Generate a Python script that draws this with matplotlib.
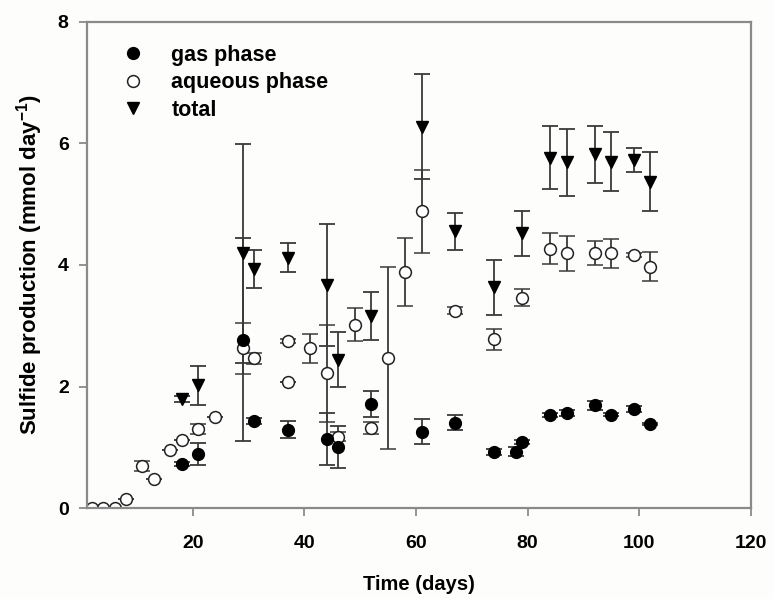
import matplotlib
matplotlib.use("Agg")
import matplotlib.pyplot as plt

# ---- data ----
gas_x = [18, 21, 29, 31, 37, 44, 46, 52, 61, 67, 74, 78, 79, 84, 87, 92, 95, 99, 102]
gas_y = [0.73, 0.89, 2.77, 1.44, 1.29, 1.14, 1.01, 1.71, 1.26, 1.41, 0.92, 0.93, 1.09, 1.53, 1.56, 1.69, 1.54, 1.63, 1.39]
gas_e = [0.03, 0.18, 1.67, 0.05, 0.14, 0.43, 0.35, 0.21, 0.21, 0.12, 0.05, 0.07, 0.03, 0.03, 0.05, 0.07, 0.02, 0.05, 0.02]

aq_x = [2, 4, 6, 8, 11, 13, 16, 18, 21, 24, 29, 31, 37, 37, 41, 44, 46, 49, 52, 55, 58, 61, 67, 74, 79, 84, 87, 92, 95, 99, 102]
aq_y = [0, 0, 0, 0.16, 0.69, 0.48, 0.96, 1.12, 1.30, 1.50, 2.63, 2.47, 2.75, 2.07, 2.63, 2.22, 1.18, 3.02, 1.32, 2.47, 3.88, 4.88, 3.25, 2.78, 3.46, 4.27, 4.19, 4.20, 4.19, 4.16, 3.97]
aq_e = [0, 0, 0, 0, 0.08, 0, 0, 0, 0.08, 0, 0.42, 0.09, 0.03, 0, 0.24, 0.80, 0.07, 0.27, 0.10, 1.49, 0.56, 0.68, 0.06, 0.17, 0.14, 0.26, 0.29, 0.20, 0.24, 0.03, 0.24]

tot_x = [18, 21, 29, 31, 37, 44, 46, 52, 61, 67, 74, 79, 84, 87, 92, 95, 99, 102]
tot_y = [1.79, 2.02, 4.19, 3.93, 4.12, 3.67, 2.44, 3.16, 6.27, 4.55, 3.63, 4.52, 5.76, 5.69, 5.82, 5.70, 5.73, 5.37]
tot_e = [0.05, 0.32, 1.80, 0.31, 0.24, 1.00, 0.45, 0.40, 0.86, 0.30, 0.45, 0.37, 0.52, 0.55, 0.47, 0.49, 0.20, 0.49]

labels = ["gas phase", "aqueous phase", "total"]
xticks = [20, 40, 60, 80, 100, 120]
yticks = [0, 2, 4, 6, 8]

plt.rcParams["mathtext.fontset"] = "custom"
plt.rcParams["mathtext.bf"] = "Liberation Sans:bold"
plt.rcParams["mathtext.rm"] = "Liberation Sans:bold"

fig = plt.figure(figsize=(7.74, 5.99), dpi=100)
fig.patch.set_facecolor("#fdfdfb")
ax = fig.add_axes([0.112, 0.1514, 0.858, 0.8126])
ax.set_facecolor("#fdfdfb")

ecol = "#3a3a3a"
ekw = dict(ecolor=ecol, elinewidth=1.3, capsize=5.5, capthick=1.3, linestyle="none", zorder=2)

ax.errorbar(tot_x, tot_y, yerr=tot_e, fmt="v", color="black", markersize=8,
            markerfacecolor="black", markeredgecolor="black", label=labels[2], **ekw)
ax.errorbar(aq_x, aq_y, yerr=aq_e, fmt="o", markersize=8.5, markerfacecolor="white",
            markeredgecolor="#222222", markeredgewidth=1.1, label=labels[1], **ekw)
ax.errorbar(gas_x, gas_y, yerr=gas_e, fmt="o", markersize=8.5, markerfacecolor="black",
            markeredgecolor="black", label=labels[0], **ekw)

ax.set_xlim(1, 120)
ax.set_ylim(0, 8)
ax.set_xticks(xticks)
ax.set_yticks(yticks)

for s in ax.spines.values():
    s.set_color("#8a8a8a")
    s.set_linewidth(1.6)
ax.tick_params(axis="both", direction="out", length=6, width=1.3, color="#8a8a8a",
               top=False, right=False)
ax.tick_params(axis="x", pad=13)
ax.tick_params(axis="y", pad=7)

fam = ["Liberation Sans Narrow", "Liberation Sans"]
for lab in ax.get_xticklabels() + ax.get_yticklabels():
    lab.set_fontfamily(fam)
    lab.set_fontweight("bold")
    lab.set_fontsize(14)

ax.set_xlabel("Time (days)", fontfamily=fam, fontweight="bold", fontsize=14.5, labelpad=17)
ax.set_ylabel(r"Sulfide production (mmol day$^{\mathbf{-1}}$)",
              fontfamily=["Liberation Sans"], fontweight="bold", fontsize=16, labelpad=9)

h, l = ax.get_legend_handles_labels()
order = [2, 1, 0]
leg = ax.legend([h[i][0] for i in order], [l[i] for i in order], loc="upper left",
                bbox_to_anchor=(0.027, 0.992), frameon=False, handletextpad=1.35,
                handlelength=0.85, labelspacing=0.3, borderaxespad=0.5,
                prop=dict(family="Liberation Sans", weight="bold", size=15.5))

fig.savefig("out.png", dpi=100, facecolor=fig.get_facecolor())
